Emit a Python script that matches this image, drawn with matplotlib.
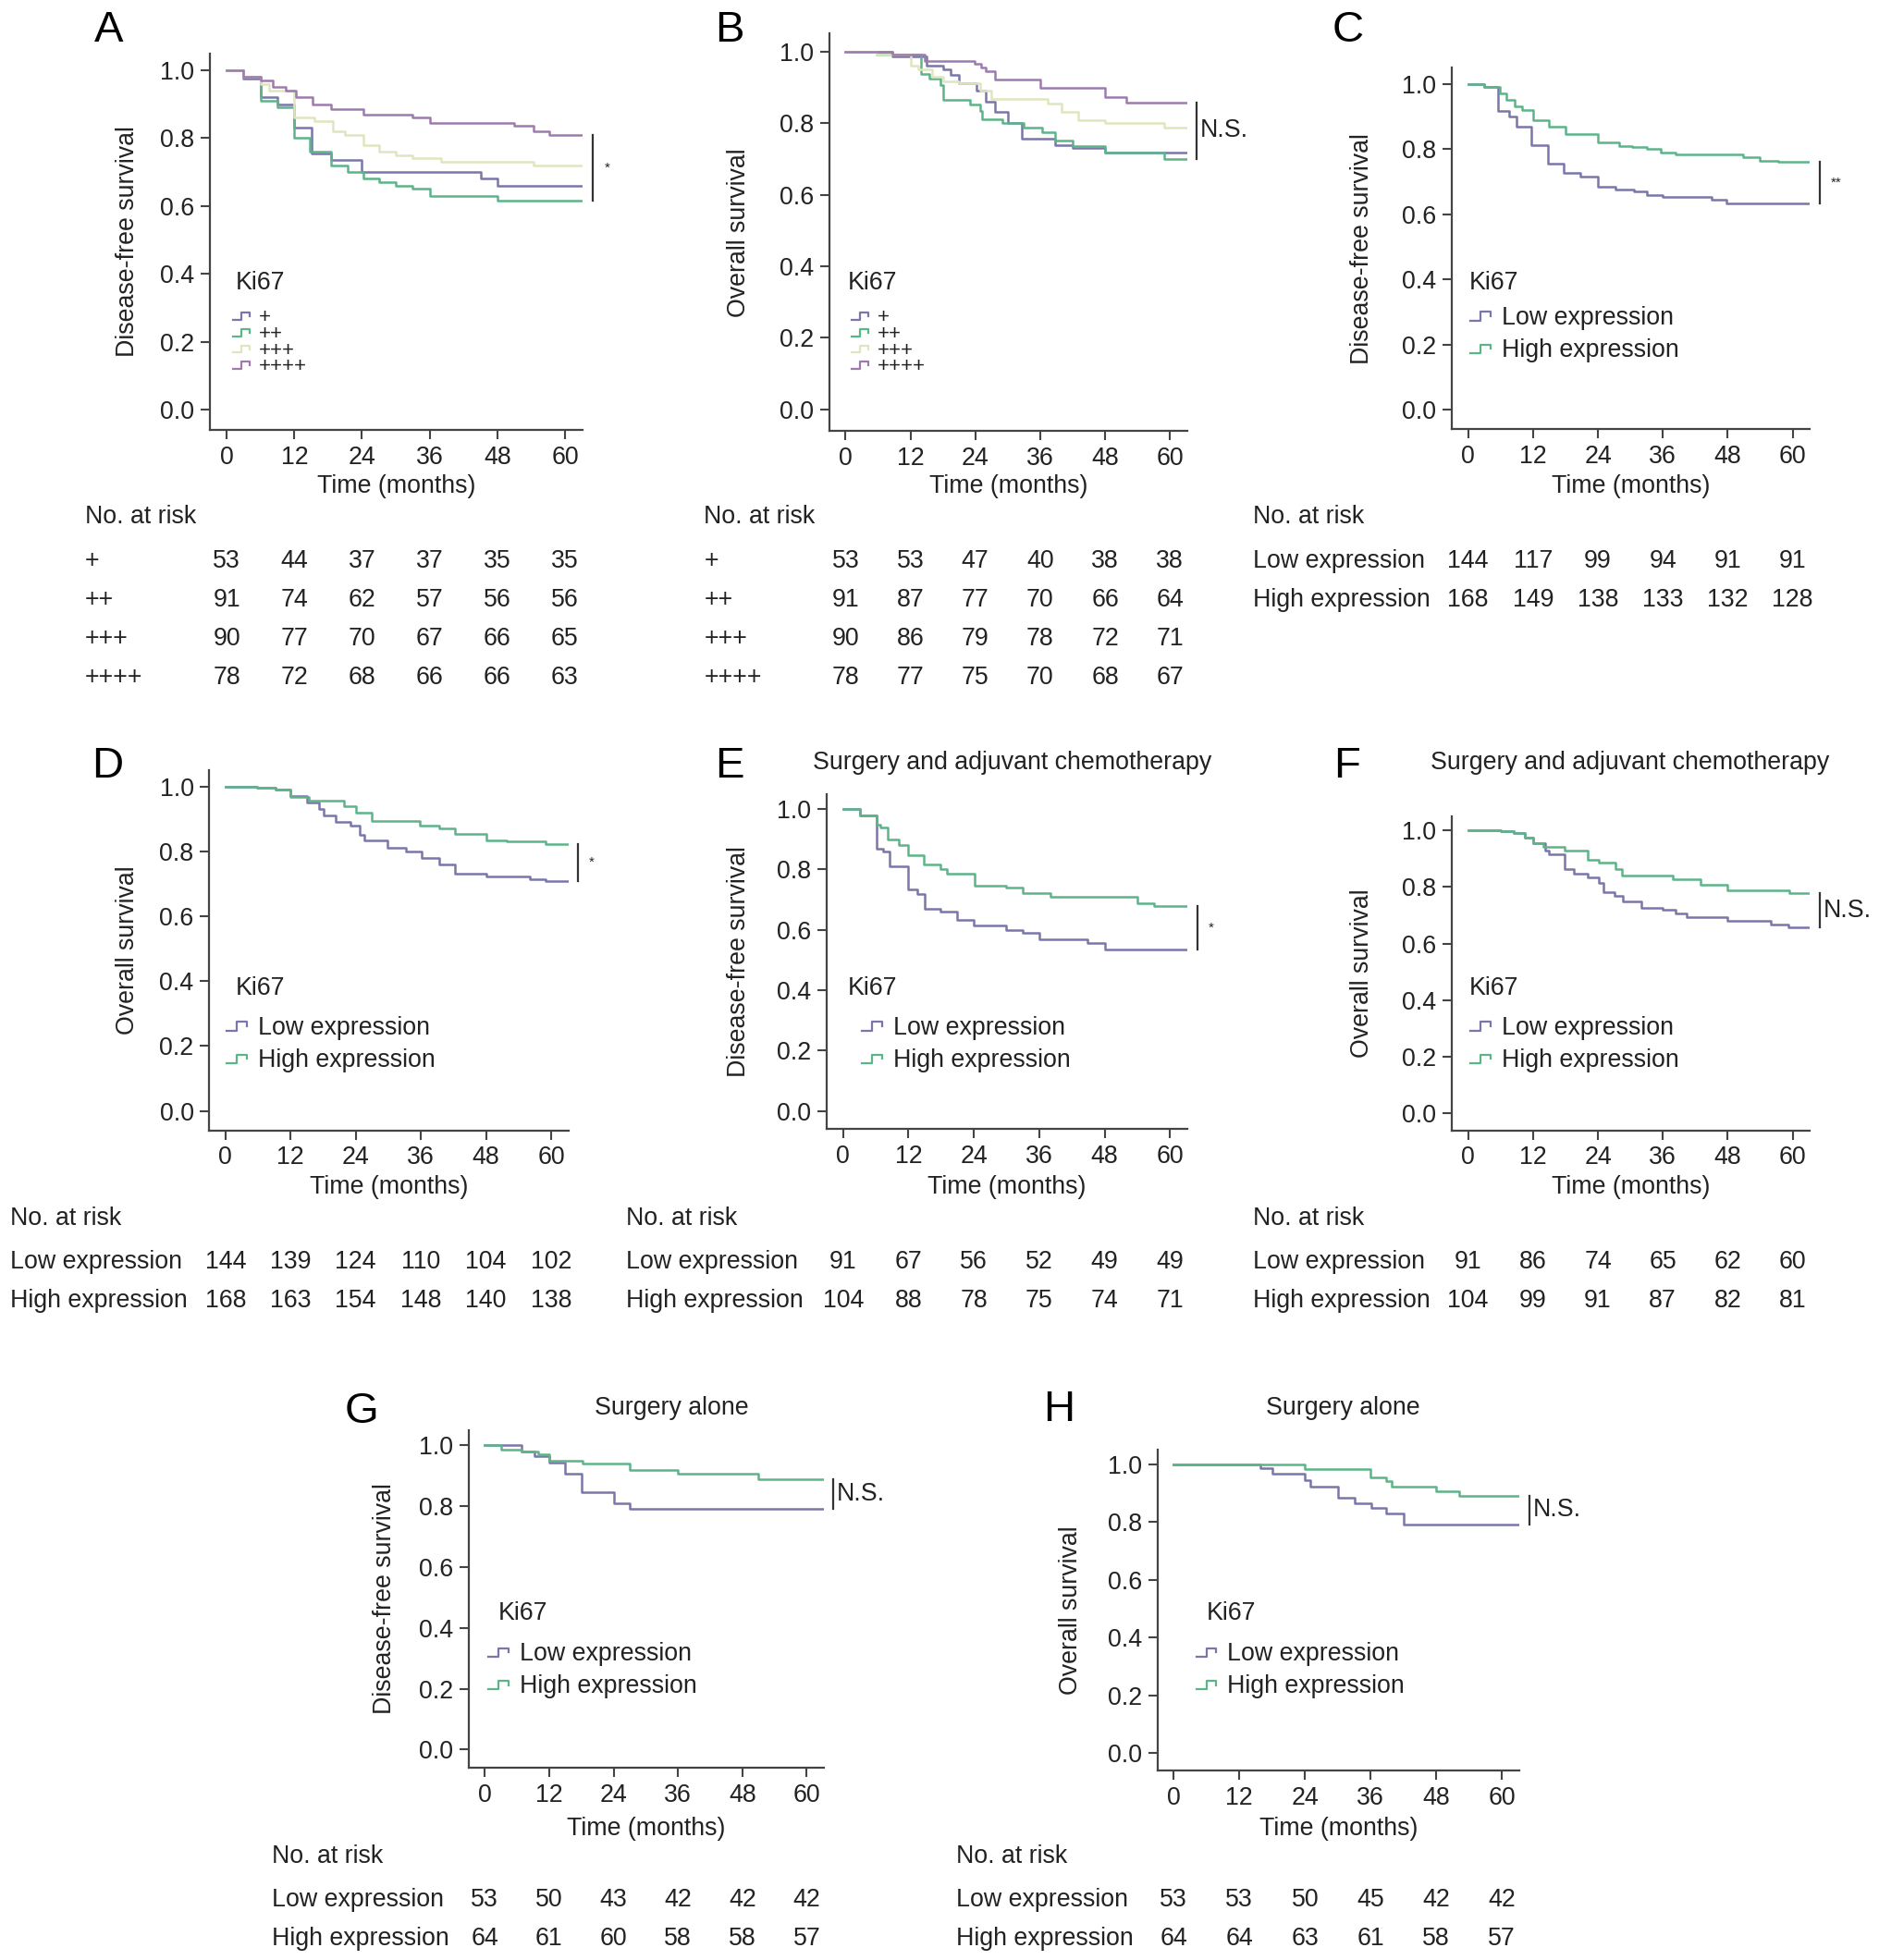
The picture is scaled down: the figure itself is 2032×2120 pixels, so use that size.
import numpy as np
import matplotlib
matplotlib.use('Agg')
import matplotlib.pyplot as plt
from matplotlib.lines import Line2D
from matplotlib.legend_handler import HandlerBase
from matplotlib.transforms import blended_transform_factory

plt.rcParams['font.family'] = ['Liberation Sans', 'DejaVu Sans']

months = [0, 12, 24, 36, 48, 60]
grades = ['+', '++', '+++', '++++']
groups = ['Low expression', 'High expression']

# ---- Kaplan-Meier steps (time of drop, survival after drop) ----
# A: disease-free survival by Ki67 grade
a_t_1 = [0, 3, 6, 9, 12, 15, 18.5, 24, 45, 48]
a_s_1 = [1, 0.975, 0.92, 0.90, 0.83, 0.755, 0.735, 0.70, 0.68, 0.66]
a_t_2 = [0, 3, 6, 9, 12, 14.8, 18.5, 21.4, 24.2, 27, 30, 33, 36, 48]
a_s_2 = [1, 0.98, 0.91, 0.89, 0.80, 0.76, 0.72, 0.70, 0.68, 0.67, 0.66, 0.65, 0.63, 0.615]
a_t_3 = [0, 3, 6, 7.5, 12, 15.5, 18.8, 21, 24.2, 27, 30, 33, 38, 54.4]
a_s_3 = [1, 0.98, 0.96, 0.94, 0.86, 0.85, 0.82, 0.81, 0.78, 0.76, 0.75, 0.74, 0.73, 0.72]
a_t_4 = [0, 3, 6, 8.2, 10.4, 12.2, 15.2, 18.5, 24.2, 33, 36, 51, 54.4, 57.3]
a_s_4 = [1, 0.98, 0.97, 0.95, 0.94, 0.92, 0.90, 0.885, 0.87, 0.86, 0.845, 0.835, 0.82, 0.81]

# B: overall survival by Ki67 grade
b_t_1 = [0, 8.7, 15, 18, 19.5, 21, 24.3, 26, 27.7, 30, 32.6, 38.8, 42, 48]
b_s_1 = [1, 0.985, 0.96, 0.95, 0.935, 0.91, 0.89, 0.86, 0.83, 0.80, 0.757, 0.737, 0.73, 0.718]
b_t_2 = [0, 5.8, 14, 15.5, 17.5, 18, 23, 24.9, 25.2, 29, 33, 36.3, 38.8, 42, 48, 59]
b_s_2 = [1, 0.99, 0.937, 0.924, 0.907, 0.864, 0.851, 0.834, 0.81, 0.80, 0.787, 0.775, 0.752, 0.735, 0.718, 0.70]
b_t_3 = [0, 5.8, 12, 13.5, 16, 18, 21, 24.9, 27, 37.4, 40, 43, 48, 59]
b_s_3 = [1, 0.99, 0.96, 0.95, 0.93, 0.915, 0.91, 0.89, 0.868, 0.855, 0.83, 0.808, 0.80, 0.787]
b_t_4 = [0, 8.7, 14.7, 23.8, 25, 26, 27.7, 36, 48, 52]
b_s_4 = [1, 0.99, 0.974, 0.965, 0.955, 0.945, 0.922, 0.898, 0.873, 0.857]

# C: disease-free survival, low vs high
c_t_low = [0, 2.9, 5.6, 7.5, 9, 11.7, 14.7, 17.7, 20.8, 24, 27.3, 30.7, 33, 36, 45, 47.8]
c_s_low = [1, 0.99, 0.917, 0.90, 0.87, 0.813, 0.756, 0.728, 0.715, 0.685, 0.675, 0.67, 0.66, 0.652, 0.645, 0.633]
c_t_high = [0, 2.9, 5.9, 7, 8.6, 10, 12, 15, 18, 24, 28, 30.3, 33, 35.6, 38.3, 50.9, 54, 57.3]
c_s_high = [1, 0.99, 0.97, 0.95, 0.93, 0.92, 0.89, 0.87, 0.846, 0.82, 0.81, 0.805, 0.80, 0.79, 0.784, 0.775, 0.765, 0.761]

# D: overall survival, low vs high
d_t_low = [0, 5.8, 9.3, 12, 15, 17.2, 18, 20.3, 23, 24.8, 25.6, 29.8, 33.2, 36.2, 39.3, 42.3, 48, 56, 59]
d_s_low = [1, 0.997, 0.99, 0.97, 0.95, 0.93, 0.91, 0.89, 0.88, 0.85, 0.834, 0.81, 0.80, 0.78, 0.76, 0.732, 0.723, 0.715, 0.709]
d_t_high = [0, 5.8, 9.3, 12, 15.3, 21.8, 24, 27, 35.8, 39.3, 42.3, 48, 51.8, 59]
d_s_high = [1, 0.997, 0.99, 0.969, 0.957, 0.94, 0.92, 0.895, 0.88, 0.87, 0.855, 0.834, 0.83, 0.822]

# E: DFS, surgery and adjuvant chemotherapy
e_t_low = [0, 3.1, 6.1, 7.4, 8.5, 12, 13.6, 15, 17.9, 21, 24, 30, 33, 36, 44.9, 48]
e_s_low = [1, 0.98, 0.868, 0.86, 0.81, 0.734, 0.72, 0.668, 0.66, 0.632, 0.613, 0.60, 0.59, 0.567, 0.555, 0.534]
e_t_high = [0, 3.1, 6.1, 6.8, 8.2, 10.2, 12, 14.8, 17.9, 19, 24.1, 30, 33, 38, 54, 57]
e_s_high = [1, 0.98, 0.949, 0.94, 0.90, 0.88, 0.846, 0.817, 0.80, 0.785, 0.747, 0.739, 0.721, 0.709, 0.689, 0.679]

# F: OS, surgery and adjuvant chemotherapy
f_t_low = [0, 6, 8.5, 10.5, 12, 14.2, 15, 17.9, 19.6, 22.2, 24.2, 25, 27, 28.7, 32, 36, 38.4, 40.4, 48, 56, 59.2]
f_s_low = [1, 0.997, 0.99, 0.975, 0.955, 0.928, 0.915, 0.863, 0.846, 0.835, 0.814, 0.781, 0.77, 0.749, 0.727, 0.72, 0.706, 0.692, 0.681, 0.668, 0.657]
f_t_high = [0, 6, 8.5, 10.5, 12, 13.9, 17.9, 22.2, 24.2, 27.3, 28.4, 37.8, 42.9, 48, 59.4]
f_s_high = [1, 0.997, 0.99, 0.975, 0.955, 0.94, 0.928, 0.895, 0.885, 0.863, 0.839, 0.827, 0.809, 0.789, 0.778]

# G: DFS, surgery alone
g_t_low = [0, 6.9, 9.2, 12, 14.9, 18, 24, 27]
g_s_low = [1, 0.98, 0.965, 0.943, 0.907, 0.847, 0.81, 0.791]
g_t_high = [0, 3.1, 6.9, 10, 12, 18.3, 27, 36, 51]
g_s_high = [1, 0.985, 0.98, 0.97, 0.95, 0.939, 0.919, 0.906, 0.889]

# H: OS, surgery alone
h_t_low = [0, 15.9, 18, 24, 24.9, 30.1, 33, 36.2, 38.8, 42.1]
h_s_low = [1, 0.985, 0.966, 0.944, 0.921, 0.883, 0.864, 0.848, 0.829, 0.791]
h_t_high = [0, 24, 35.9, 38.8, 39.8, 48, 52.2]
h_s_high = [1, 0.983, 0.953, 0.94, 0.921, 0.905, 0.891]

# ---- numbers at risk ----
a_risk = [[53, 44, 37, 37, 35, 35], [91, 74, 62, 57, 56, 56], [90, 77, 70, 67, 66, 65], [78, 72, 68, 66, 66, 63]]
b_risk = [[53, 53, 47, 40, 38, 38], [91, 87, 77, 70, 66, 64], [90, 86, 79, 78, 72, 71], [78, 77, 75, 70, 68, 67]]
c_risk = [[144, 117, 99, 94, 91, 91], [168, 149, 138, 133, 132, 128]]
d_risk = [[144, 139, 124, 110, 104, 102], [168, 163, 154, 148, 140, 138]]
e_risk = [[91, 67, 56, 52, 49, 49], [104, 88, 78, 75, 74, 71]]
f_risk = [[91, 86, 74, 65, 62, 60], [104, 99, 91, 87, 82, 81]]
g_risk = [[53, 50, 43, 42, 42, 42], [64, 61, 60, 58, 58, 57]]
h_risk = [[53, 53, 50, 45, 42, 42], [64, 64, 63, 61, 58, 57]]

a_sig, b_sig, c_sig, d_sig = '*', 'N.S.', '**', '*'
e_sig, f_sig, g_sig, h_sig = '*', 'N.S.', 'N.S.', 'N.S.'

# ---- style ----
LOW = '#7a76aa'
HIGH = '#5cb489'
G3 = '#dfe6bf'
G4 = '#9f7aae'
grade_colors = [LOW, HIGH, G3, G4]
TXT = '#222222'
AXC = '#444444'
FS = 19.3
XLIM = (-3.0, 63.2)
YLIM = (-0.06, 1.05)

# layout grid (reference measured on a 1500 x 1565 canvas)
W, H = 1500.0, 1565.0
fig = plt.figure(figsize=(20.32, 21.2), dpi=100)


def fx(x):
    return x / W


def fy(y):
    return 1 - y / H


class StepHandler(HandlerBase):
    def create_artists(self, legend, orig_handle, xdescent, ydescent, width, height, fontsize, trans):
        x = np.array([0.0, 0.45, 0.45, 0.9, 0.9]) * width - xdescent
        y = np.array([0.2, 0.2, 0.7, 0.7, 0.45]) * height - ydescent
        ln = Line2D(x, y, color=orig_handle.get_color(), lw=1.6, transform=trans)
        return [ln]


def km_axes(px0, px60, py1, py0):
    kx = (px60 - px0) / 60.0
    ky = py0 - py1
    left = px0 + XLIM[0] * kx
    right = px0 + XLIM[1] * kx
    top = py1 - (YLIM[1] - 1.0) * ky
    bottom = py0 - YLIM[0] * ky
    ax = fig.add_axes([left / W, 1 - bottom / H, (right - left) / W, (bottom - top) / H])
    ax.set_xlim(*XLIM)
    ax.set_ylim(*YLIM)
    ax.spines['top'].set_visible(False)
    ax.spines['right'].set_visible(False)
    for side in ['left', 'bottom']:
        ax.spines[side].set_linewidth(1.6)
        ax.spines[side].set_color(AXC)
    ax.set_xticks(months)
    ax.set_yticks(np.arange(0, 1.01, 0.2))
    ax.set_yticklabels(['%.1f' % v for v in np.arange(0, 1.01, 0.2)])
    ax.tick_params(direction='out', length=7, width=1.5, color=AXC, labelsize=FS,
                   labelcolor=TXT, pad=5)
    ax.patch.set_alpha(0)
    return ax


def km(ax, t, s, color, end=63.0):
    tt = list(t) + [end]
    ss = list(s) + [s[-1]]
    return ax.step(tt, ss, where='post', color=color, lw=1.8)[0]


def decorate(ax, ylab, ylab_x, xlab_y, curves, sig):
    ax.set_ylabel(ylab, fontsize=FS, color=TXT, va='center')
    ax.yaxis.set_label_coords(fx(ylab_x), 0.5, transform=blended_transform_factory(fig.transFigure, ax.transAxes))
    ax.set_xlabel('Time (months)', fontsize=FS, color=TXT, va='center')
    ax.xaxis.set_label_coords(0.5, fy(xlab_y), transform=blended_transform_factory(ax.transAxes, fig.transFigure))
    ends = [c[1][-1] for c in curves]
    ax.plot([65, 65], [min(ends), max(ends)], color='#333333', lw=1.6, clip_on=False)
    ymid = (min(ends) + max(ends)) / 2
    if sig.startswith('*'):
        ax.text(67.0, ymid, sig, fontsize=11, color=TXT, ha='left', va='center', clip_on=False)
    else:
        ax.text(65.6, ymid, sig, fontsize=FS, color=TXT, ha='left', va='center', clip_on=False)


def add_legend(ax, lines, labels, title_xy, entry_xy, fs, spacing):
    fig.text(fx(title_xy[0]), fy(title_xy[1]), 'Ki67', fontsize=FS, color=TXT, ha='left', va='center')
    fig.legend(lines, labels, loc='upper left', bbox_to_anchor=(fx(entry_xy[0]), fy(entry_xy[1])),
               bbox_transform=fig.transFigure, frameon=False, borderpad=0, borderaxespad=0,
               handlelength=0.9, handletextpad=0.35, labelspacing=spacing, fontsize=fs,
               labelcolor=TXT, handler_map={Line2D: StepHandler()})


def risk_table(ax, x_lab, y_head, rows_y, labels, counts):
    fig.text(fx(x_lab), fy(y_head), 'No. at risk', fontsize=FS, color=TXT, ha='left', va='center')
    tr = blended_transform_factory(ax.transData, fig.transFigure)
    for lab, yy, cnt in zip(labels, rows_y, counts):
        fig.text(fx(x_lab), fy(yy), lab, fontsize=FS, color=TXT, ha='left', va='center')
        for m, n in zip(months, cnt):
            ax.text(m, fy(yy), str(n), transform=tr, fontsize=FS, color=TXT,
                    ha='center', va='center', clip_on=False)


def panel_letter(x, y, s):
    fig.text(fx(x), fy(y), s, fontsize=34, color='black', ha='center', va='center')


def panel_title(x, y, s):
    fig.text(fx(x), fy(y), s, fontsize=FS, color=TXT, ha='center', va='center')


# ---- A ----
ax = km_axes(181, 451, 56, 327)
a_curves = [(a_t_1, a_s_1), (a_t_2, a_s_2), (a_t_3, a_s_3), (a_t_4, a_s_4)]
lines = [km(ax, t, s, c) for (t, s), c in zip(a_curves, grade_colors)]
decorate(ax, 'Disease-free survival', 102, 388, a_curves, a_sig)
add_legend(ax, lines, grades, (188, 226), (186, 246), 16, -0.15)
risk_table(ax, 68, 413, [448, 479, 510, 541], grades, a_risk)
panel_letter(87, 24, 'A')

# ---- B ----
ax = km_axes(675, 934, 41, 327)
b_curves = [(b_t_1, b_s_1), (b_t_2, b_s_2), (b_t_3, b_s_3), (b_t_4, b_s_4)]
lines = [km(ax, t, s, c) for (t, s), c in zip(b_curves, grade_colors)]
decorate(ax, 'Overall survival', 590, 388, b_curves, b_sig)
add_legend(ax, lines, grades, (677, 226), (680, 246), 16, -0.15)
risk_table(ax, 562, 413, [448, 479, 510, 541], grades, b_risk)
panel_letter(582, 24, 'B')

# ---- C ----
ax = km_axes(1172, 1431, 67, 327)
c_curves = [(c_t_low, c_s_low), (c_t_high, c_s_high)]
lines = [km(ax, t, s, c) for (t, s), c in zip(c_curves, [LOW, HIGH])]
decorate(ax, 'Disease-free survival', 1087, 388, c_curves, c_sig)
add_legend(ax, lines, groups, (1173, 226), (1174, 244), FS, 0.34)
risk_table(ax, 1000, 413, [448, 479], groups, c_risk)
panel_letter(1076, 24, 'C')

# ---- D ----
ax = km_axes(180, 440, 628, 887)
d_curves = [(d_t_low, d_s_low), (d_t_high, d_s_high)]
lines = [km(ax, t, s, c) for (t, s), c in zip(d_curves, [LOW, HIGH])]
decorate(ax, 'Overall survival', 102, 948, d_curves, d_sig)
add_legend(ax, lines, groups, (188, 789), (181, 811), FS, 0.34)
risk_table(ax, 8, 973, [1008, 1039], groups, d_risk)
panel_letter(86, 612, 'D')

# ---- E ----
ax = km_axes(673, 934, 646, 887)
e_curves = [(e_t_low, e_s_low), (e_t_high, e_s_high)]
lines = [km(ax, t, s, c) for (t, s), c in zip(e_curves, [LOW, HIGH])]
decorate(ax, 'Disease-free survival', 590, 948, e_curves, e_sig)
add_legend(ax, lines, groups, (677, 789), (688, 811), FS, 0.34)
risk_table(ax, 500, 973, [1008, 1039], groups, e_risk)
panel_letter(582, 612, 'E')
panel_title(808, 609, 'Surgery and adjuvant chemotherapy')

# ---- F ----
ax = km_axes(1172, 1431, 663, 889)
f_curves = [(f_t_low, f_s_low), (f_t_high, f_s_high)]
lines = [km(ax, t, s, c) for (t, s), c in zip(f_curves, [LOW, HIGH])]
decorate(ax, 'Overall survival', 1087, 948, f_curves, f_sig)
add_legend(ax, lines, groups, (1173, 789), (1174, 811), FS, 0.34)
risk_table(ax, 1000, 973, [1008, 1039], groups, f_risk)
panel_letter(1075, 612, 'F')
panel_title(1301, 609, 'Surgery and adjuvant chemotherapy')

# ---- G ----
ax = km_axes(387, 644, 1154, 1397)
g_curves = [(g_t_low, g_s_low), (g_t_high, g_s_high)]
lines = [km(ax, t, s, c) for (t, s), c in zip(g_curves, [LOW, HIGH])]
decorate(ax, 'Disease-free survival', 307, 1460, g_curves, g_sig)
add_legend(ax, lines, groups, (398, 1288), (390, 1311), FS, 0.34)
risk_table(ax, 217, 1482, [1517, 1548], groups, g_risk)
panel_letter(289, 1127, 'G')
panel_title(536, 1124, 'Surgery alone')

# ---- H ----
ax = km_axes(937, 1199, 1169, 1400)
h_curves = [(h_t_low, h_s_low), (h_t_high, h_s_high)]
lines = [km(ax, t, s, c) for (t, s), c in zip(h_curves, [LOW, HIGH])]
decorate(ax, 'Overall survival', 855, 1460, h_curves, h_sig)
add_legend(ax, lines, groups, (963, 1288), (955, 1311), FS, 0.34)
risk_table(ax, 763, 1482, [1517, 1548], groups, h_risk)
panel_letter(845, 1126, 'H')
panel_title(1072, 1124, 'Surgery alone')

fig.savefig('out.png', dpi=100)
plt.close(fig)
